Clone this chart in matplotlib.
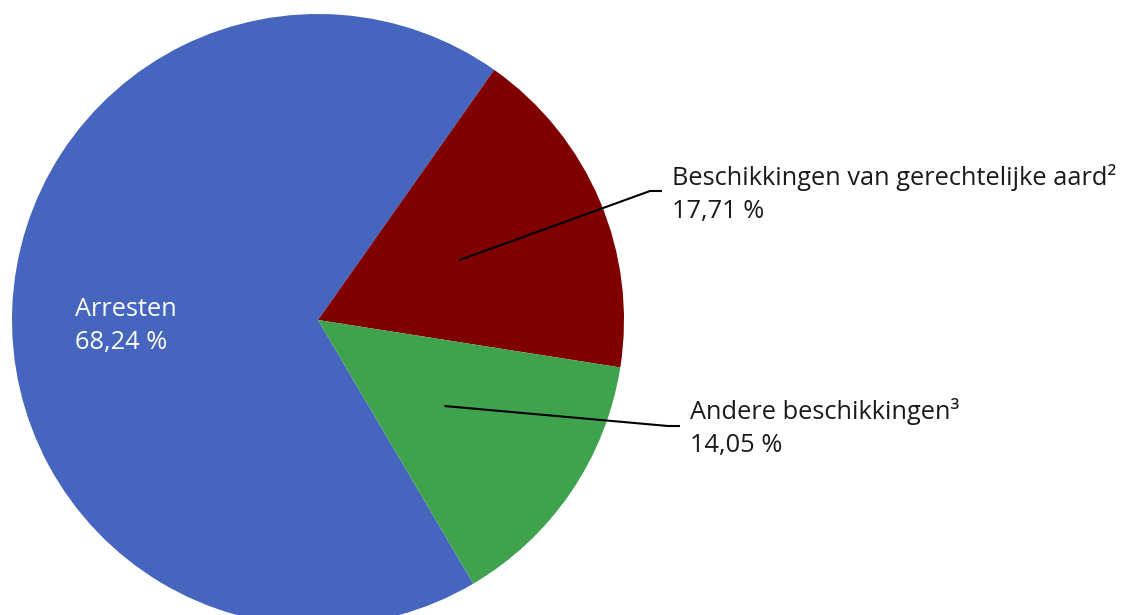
import numpy as np
import matplotlib
matplotlib.use('Agg')
import matplotlib.pyplot as plt

plt.rcParams['font.family'] = ['Open Sans', 'DejaVu Sans']

# data
labels = ['Arresten', 'Beschikkingen van gerechtelijke aard²', 'Andere beschikkingen³']
shares = [68.24, 17.71, 14.05]
colors = ['#4565BE', '#800000', '#3EA34C']

# figure: 1125x615 px, pie centre at (318, 320) px, radius 306 px
W, H, R = 1125, 615, 306
cx, cy = 318, 320

def px(x, y):
    # pixel position (from top-left) -> data coords
    return (x - cx) / R, (cy - y) / R

fig = plt.figure(figsize=(W / 100, H / 100), dpi=100)
ax = fig.add_axes([0, 0, 1, 1])

wedges, _ = ax.pie(shares, colors=colors, startangle=-59.5, counterclock=False,
                   radius=1, center=(0, 0), frame=True,
                   wedgeprops=dict(linewidth=0))
ax.set_xlim(-cx / R, (W - cx) / R)
ax.set_ylim(-(H - cy) / R, cy / R)
ax.set_aspect('equal')
ax.axis('off')

def fmt(v):
    return f"{v:.2f}".replace('.', ',') + ' %'

fs = 18.3

# inside label for Arresten
ax.text(*px(75, 326), f"{labels[0]}\n{fmt(shares[0])}", color='white',
        fontsize=fs, ha='left', va='center', linespacing=1.45)

# outside labels with leader lines: (index, elbow px, line end x px, text x px, text y px)
outside = [
    (1, (650, 191), 662, 672, 194),
    (2, (668, 426), 680, 690, 428),
]
for i, (ex, ey), lx, tx, ty in outside:
    w = wedges[i]
    mid = np.deg2rad((w.theta1 + w.theta2) / 2)
    sx, sy = 0.5 * np.cos(mid), 0.5 * np.sin(mid)
    exd, eyd = px(ex, ey)
    lxd, _ = px(lx, ey)
    ax.plot([sx, exd, lxd], [sy, eyd, eyd], color='black', lw=1.5,
            solid_capstyle='butt')
    ax.text(*px(tx, ty), f"{labels[i]}\n{fmt(shares[i])}", color='#1a1a1a',
            fontsize=fs, ha='left', va='center', linespacing=1.45)

fig.savefig('out.png', dpi=100)
